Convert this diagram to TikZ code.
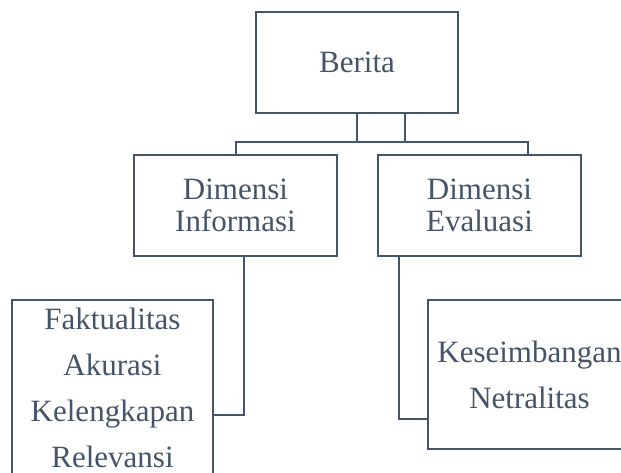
\documentclass[tikz,border=0pt]{standalone}
\usepackage{fontspec}
\setmainfont{Liberation Serif}
\definecolor{slate}{RGB}{68,84,106}
\begin{document}
\begin{tikzpicture}[x=1pt,y=-1pt,
  box/.style={draw=slate,line width=2pt,inner sep=0pt,align=center,text=slate,minimum width=203pt},
  conn/.style={draw=slate,line width=2pt},
  mid/.style={font=\fontsize{31}{32}\selectfont},
  low/.style={font=\fontsize{31}{46}\selectfont}]
\useasboundingbox (0,0) rectangle (621,472);
\clip (0,0) rectangle (621,472);
\node[box,mid,minimum width=202pt,minimum height=101pt] (berita) at (357,62.5) {Berita};
\node[box,mid,minimum height=101pt] (info) at (235.5,205.5) {Dimensi\\Informasi};
\node[box,mid,minimum height=101pt] (eval) at (479.5,205.5) {Dimensi\\Evaluasi};
\node[box,low,minimum width=201pt,minimum height=176pt] (infoitems) at (112.5,388) {Faktualitas\\Akurasi\\Kelengkapan\\Relevansi};
\node[box,low,minimum height=149pt] (evalitems) at (529.5,374.5) {Keseimbangan\\Netralitas};
\coordinate (bus) at (0,142);
\coordinate (evtop) at ([xshift=48.5pt]eval.north);
\coordinate (btop2) at ([xshift=48pt]berita.south);
\draw[conn] (berita.south) -- (berita.south |- bus) -| (evtop);
\draw[conn] (btop2) -- (btop2 |- bus) -| (info.north);
\coordinate (infodown) at ([xshift=8.5pt]info.south);
\coordinate (lbend) at (0,415);
\draw[conn] (infodown) -- (infodown |- lbend) -- (infoitems.east |- lbend);
\coordinate (evaldown) at ([xshift=-80.5pt]eval.south);
\coordinate (rbend) at (0,419);
\draw[conn] (evaldown) -- (evaldown |- rbend) -- (evalitems.west |- rbend);
\end{tikzpicture}
\end{document}
